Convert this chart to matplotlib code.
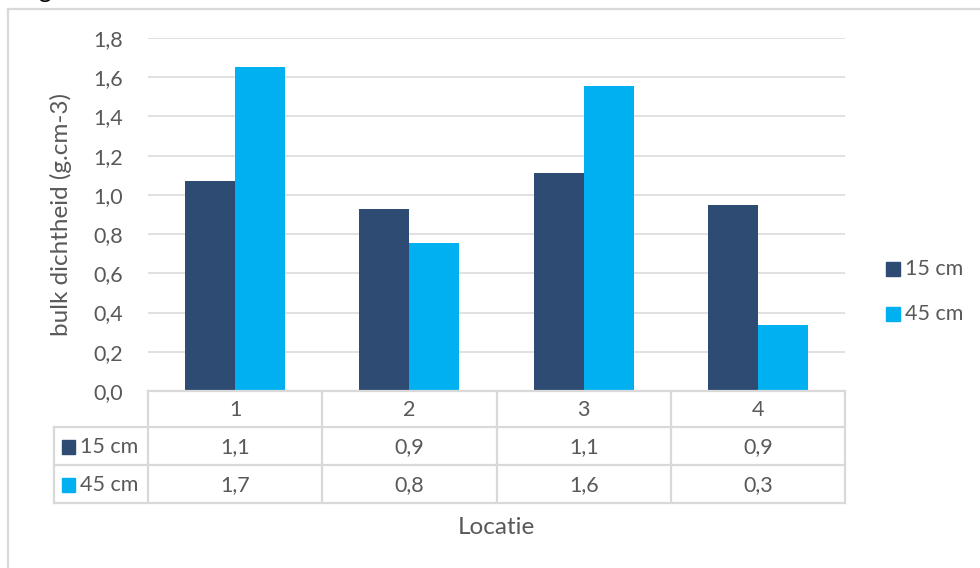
import matplotlib
matplotlib.use("Agg")
import matplotlib.pyplot as plt
from matplotlib.lines import Line2D
from matplotlib.patches import Rectangle

plt.rcParams['font.family'] = ['Lato', 'DejaVu Sans']

# bulk density per location, two depths
locaties = ['1', '2', '3', '4']
series_names = ['15 cm', '45 cm']
waarden_15 = [1.07, 0.93, 1.11, 0.95]
waarden_45 = [1.652, 0.755, 1.556, 0.336]
y_ticks = [0.0, 0.2, 0.4, 0.6, 0.8, 1.0, 1.2, 1.4, 1.6, 1.8]

kleuren = ['#2E4B73', '#00B0F0']
grijs = '#D9D9D9'
tekst = '#595959'
fs = 15.5
fs_titel = 17.5

W, H = 980, 568
fig = plt.figure(figsize=(W / 100, H / 100), dpi=100)

# plot area in pixel terms: x 148..845, y 38..391
px_l, px_r, px_t, px_b = 148, 845, 38, 391
ax = fig.add_axes([px_l / W, 1 - px_b / H, (px_r - px_l) / W, (px_b - px_t) / H])

n = len(locaties)
bw = 0.287
xs = list(range(n))
ax.bar([x - bw / 2 for x in xs], waarden_15, width=bw, color=kleuren[0], zorder=3)
ax.bar([x + bw / 2 for x in xs], waarden_45, width=bw, color=kleuren[1], zorder=3)

ax.set_xlim(-0.5, n - 0.5)
ax.set_ylim(0, 1.8)
ax.set_yticks(y_ticks)
ax.set_yticklabels([f'{t:.1f}'.replace('.', ',') for t in y_ticks])
ax.set_xticks([])
ax.tick_params(axis='y', length=0, pad=18, labelsize=fs, labelcolor=tekst)
ax.grid(axis='y', color=grijs, linewidth=1.1, zorder=0)
for s in ax.spines.values():
    s.set_visible(False)


# data table below the plot, coordinates converted from pixels to axes fractions
def ax_x(px):
    return (px - px_l) / (px_r - px_l)


def ax_y(py):
    return (px_b - py) / (px_b - px_t)


def lijn(x0, x1, y0, y1):
    ax.add_line(Line2D([ax_x(x0), ax_x(x1)], [ax_y(y0), ax_y(y1)], transform=ax.transAxes,
                       color=grijs, linewidth=1.6, clip_on=False, zorder=4))


ax.text(ax_x(61), 0.5, 'bulk dichtheid (g.cm-3)', transform=ax.transAxes, rotation=90,
        ha='center', va='center', fontsize=fs_titel, color=tekst)

rij_y = [391, 427, 465, 503]
lijn(px_l, px_r, 391, 391)
for y in rij_y[1:]:
    lijn(54, px_r, y, y)
lijn(54, 54, 427, 503)
cel_w = (px_r - px_l) / n
for i in range(n + 1):
    x = px_l + i * cel_w
    lijn(x, x, 391, 503)

for i, lab in enumerate(locaties):
    xc = ax_x(px_l + (i + 0.5) * cel_w)
    ax.text(xc, ax_y(410), lab, transform=ax.transAxes, ha='center', va='center',
            fontsize=fs, color=tekst)
    for vals, yc in ((waarden_15, 447), (waarden_45, 485)):
        ax.text(xc, ax_y(yc), f'{vals[i]:.1f}'.replace('.', ','), transform=ax.transAxes,
                ha='center', va='center', fontsize=fs, color=tekst)

for name, kleur, yc in zip(series_names, kleuren, (447, 485)):
    ax.add_patch(Rectangle((ax_x(62), ax_y(yc + 7)), ax_x(75) - ax_x(62), ax_y(yc - 7) - ax_y(yc + 7),
                           transform=ax.transAxes, color=kleur, clip_on=False, zorder=4))
    ax.text(ax_x(80), ax_y(yc), name, transform=ax.transAxes, ha='left', va='center',
            fontsize=fs, color=tekst)

ax.text(0.5, ax_y(527), 'Locatie', transform=ax.transAxes, ha='center', va='center',
        fontsize=fs_titel, color=tekst)

# legend on the right
for name, kleur, yc in zip(series_names, kleuren, (269, 314)):
    fig.patches.append(Rectangle((886 / W, 1 - (yc + 7) / H), 14 / W, 14 / H,
                                 transform=fig.transFigure, color=kleur))
    fig.text(905 / W, 1 - yc / H, name, ha='left', va='center', fontsize=fs, color=tekst)

# chart frame (only top and left edges fall inside the image)
fig.add_artist(Line2D([8 / W, 8 / W], [0, 1 - 9 / H], transform=fig.transFigure,
                      color=grijs, linewidth=1.6))
fig.add_artist(Line2D([8 / W, 1], [1 - 9 / H, 1 - 9 / H], transform=fig.transFigure,
                      color=grijs, linewidth=1.6))

# tail of the title text sitting just above the frame
fig.text(45 / W, 1 + 2 / H, 'g', ha='center', va='baseline', fontsize=fs_titel, color='black')

fig.savefig('out.png', dpi=100, facecolor='white')
